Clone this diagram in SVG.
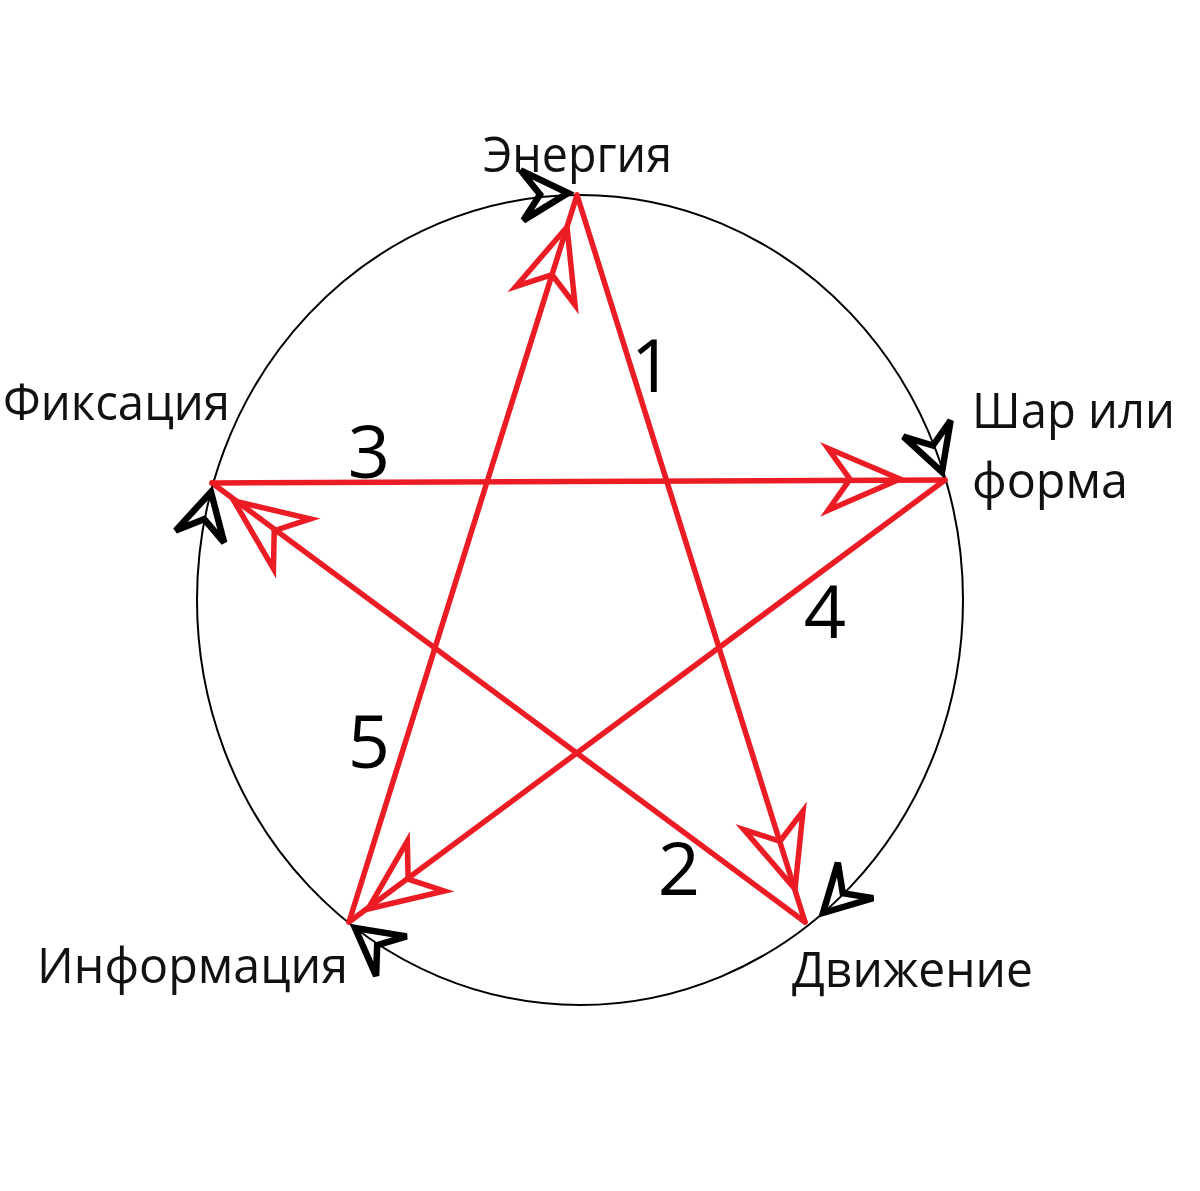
<svg xmlns="http://www.w3.org/2000/svg" width="1200" height="1191" viewBox="0 0 1200 1191">
<defs>
<style>
.lbl{font-family:"Open Sans","Noto Sans","Liberation Sans",sans-serif;font-size:50px;fill:#111;}
.num{font-family:"Open Sans","Noto Sans","Liberation Sans",sans-serif;font-size:74px;fill:#000;text-anchor:middle;}
.edge{stroke:#ec1c24;stroke-width:5.5;fill:none;stroke-linecap:round;}
.rh{stroke:#ec1c24;stroke-width:5.5;fill:none;stroke-linejoin:miter;}
.bh{stroke:#000;stroke-width:6.5;fill:none;stroke-linejoin:miter;}
</style>
<path id="red" d="M0,0 L-72,-31 L-50,0 L-72,31 Z"/>
<path id="blk" d="M0,0 L-46,-25 L-28,0 L-46,25 Z"/>
</defs>
<rect width="1200" height="1191" fill="#fff"/>
<ellipse id="circle" cx="580" cy="600" rx="383" ry="405" fill="none" stroke="#000" stroke-width="2"/>
<g id="connectors">
<line class="edge" x1="577" y1="195" x2="805" y2="922"/>
<line class="edge" x1="805" y1="922" x2="212" y2="483"/>
<line class="edge" x1="212" y1="483" x2="945" y2="480"/>
<line class="edge" x1="945" y1="480" x2="349" y2="922"/>
<line class="edge" x1="349" y1="922" x2="577" y2="195"/>
<use href="#red" class="rh" transform="translate(795,889) rotate(72.6)"/>
<use href="#red" class="rh" transform="translate(234,501) rotate(216.5)"/>
<use href="#red" class="rh" transform="translate(900,479) rotate(-0.2)"/>
<use href="#red" class="rh" transform="translate(368,909) rotate(143.4)"/>
<use href="#red" class="rh" transform="translate(567,227) rotate(-72.6)"/>
<use href="#blk" class="bh" transform="translate(568,193) rotate(-3)"/>
<use href="#blk" class="bh" transform="translate(942,472) rotate(71)"/>
<use href="#blk" class="bh" transform="translate(823,913) rotate(135)"/>
<use href="#blk" class="bh" transform="translate(355,928) rotate(217.7)"/>
<use href="#blk" class="bh" transform="translate(211,492) rotate(-76)"/>
<text class="num" x="652" y="392">1</text>
<text class="num" x="679" y="895">2</text>
<text class="num" x="369" y="478">3</text>
<text class="num" x="825" y="638">4</text>
<text class="num" x="369" y="768">5</text>
</g>
<g id="node-energy"><text class="lbl" x="483" y="172" textLength="189" lengthAdjust="spacingAndGlyphs">Энергия</text></g>
<g id="node-form"><text class="lbl" x="972" y="428" textLength="203" lengthAdjust="spacingAndGlyphs">Шар или</text><text class="lbl" x="972" y="498" textLength="156" lengthAdjust="spacingAndGlyphs">форма</text></g>
<g id="node-motion"><text class="lbl" x="792" y="987" textLength="241" lengthAdjust="spacingAndGlyphs">Движение</text></g>
<g id="node-info"><text class="lbl" x="37" y="983" textLength="311" lengthAdjust="spacingAndGlyphs">Информация</text></g>
<g id="node-fix"><text class="lbl" x="3" y="420" textLength="227" lengthAdjust="spacingAndGlyphs">Фиксация</text></g>
</svg>
